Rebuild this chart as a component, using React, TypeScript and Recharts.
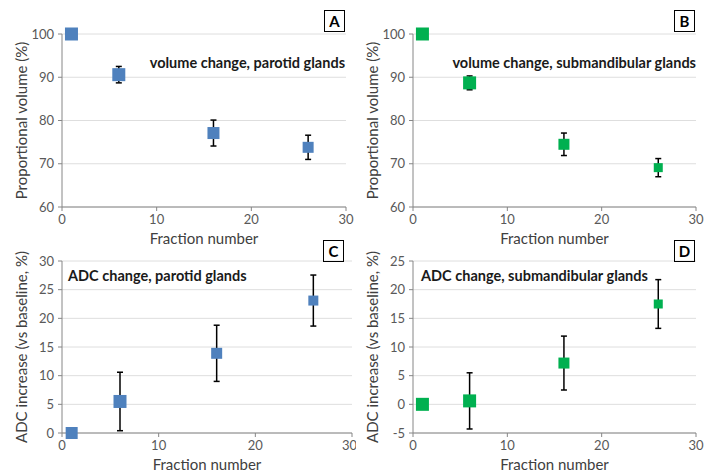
import {
  ScatterChart,
  Scatter,
  XAxis,
  YAxis,
  CartesianGrid,
  ErrorBar,
} from "recharts";

// fractions at which the glands were measured
const FRACTIONS = [1, 6, 16, 26];
const X_TICKS = [0, 10, 20, 30];

// volume, % of baseline
const PAROTID_VOLUME = [100, 90.6, 77.1, 73.8];
const PAROTID_VOLUME_ERR = [0, 1.9, 3.0, 2.8];
const SUBMAND_VOLUME = [100, 88.7, 74.5, 69.1];
const SUBMAND_VOLUME_ERR = [0, 1.6, 2.6, 2.1];

// ADC increase vs baseline, %
const PAROTID_ADC = [0, 5.5, 13.9, 23.1];
const PAROTID_ADC_ERR = [0, 5.1, 4.9, 4.45];
const SUBMAND_ADC = [0, 0.6, 7.2, 17.5];
const SUBMAND_ADC_ERR = [0, 4.9, 4.7, 4.25];

const VOLUME_TICKS = [60, 70, 80, 90, 100];
const PAROTID_ADC_TICKS = [0, 5, 10, 15, 20, 25, 30];
const SUBMAND_ADC_TICKS = [-5, 0, 5, 10, 15, 20, 25];

const BLUE = "#4F81BD";
const GREEN = "#00B050";
const AXIS = "#868686";
const GRID = "#dedede";
const TEXT = "#404040";
const FONT = "Lato, 'Open Sans', sans-serif";

function toRows(values: number[], errors: number[]) {
  return FRACTIONS.map((f, i) => ({ fraction: f, value: values[i], err: errors[i] }));
}

function squareShape(sizes: number[], color: string) {
  return (props: any) => {
    const i = FRACTIONS.indexOf(props.payload?.fraction);
    const s = sizes[i] ?? 11;
    return (
      <rect x={props.cx - s / 2} y={props.cy - s / 2} width={s} height={s} fill={color} />
    );
  };
}

function xLabel(props: any) {
  const vb = props.viewBox;
  return (
    <text
      x={vb.x + vb.width / 2}
      y={vb.y + 37}
      textAnchor="middle"
      fill={TEXT}
      fontSize={15}
      fontFamily={FONT}
    >
      Fraction number
    </text>
  );
}

function yLabel(text: string) {
  return (props: any) => {
    const vb = props.viewBox;
    const x = vb.x + vb.width - 35;
    const y = vb.y + vb.height / 2;
    return (
      <text
        x={x}
        y={y}
        transform={`rotate(-90 ${x} ${y})`}
        textAnchor="middle"
        fill={TEXT}
        fontSize={15}
        fontFamily={FONT}
      >
        {text}
      </text>
    );
  };
}

type PanelProps = {
  left: number;
  top: number;
  width: number;
  height: number;
  margin: { top: number; right: number; bottom: number; left: number };
  xHeight: number;
  yDomain: [number, number];
  yTicks: number[];
  rows: { fraction: number; value: number; err: number }[];
  color: string;
  sizes: number[];
  yTitle: string;
};

function Panel(p: PanelProps) {
  const tick = { fill: "#595959", fontSize: 13, fontFamily: FONT };
  return (
    <div style={{ position: "absolute", left: p.left, top: p.top }}>
      <ScatterChart width={p.width} height={p.height} margin={p.margin}>
        <CartesianGrid vertical={false} stroke={GRID} />
        <XAxis
          type="number"
          dataKey="fraction"
          domain={[0, 30]}
          ticks={X_TICKS}
          height={p.xHeight}
          stroke={AXIS}
          tickSize={4}
          tickMargin={4}
          tick={tick}
          label={{ content: xLabel }}
        />
        <YAxis
          type="number"
          dataKey="value"
          domain={p.yDomain}
          ticks={p.yTicks}
          width={40}
          stroke={AXIS}
          tickSize={4}
          tickMargin={4}
          tick={tick}
          label={{ content: yLabel(p.yTitle) }}
        />
        <Scatter
          data={p.rows}
          fill={p.color}
          shape={squareShape(p.sizes, p.color)}
          isAnimationActive={false}
        >
          <ErrorBar
            dataKey="err"
            direction="y"
            width={3}
            stroke="#000"
            strokeWidth={1.5}
            isAnimationActive={false}
          />
        </Scatter>
      </ScatterChart>
    </div>
  );
}

function LetterBox({ x, y, letter }: { x: number; y: number; letter: string }) {
  return (
    <div
      style={{
        position: "absolute",
        left: x,
        top: y,
        width: 19,
        height: 20,
        border: "1.5px solid #000",
        fontFamily: FONT,
        fontWeight: 700,
        fontSize: 15,
        lineHeight: "20px",
        textAlign: "center",
        color: "#000",
      }}
    >
      {letter}
    </div>
  );
}

function Note({ x, y, text, align }: { x: number; y: number; text: string; align: "left" | "right" }) {
  const style: any = {
    position: "absolute",
    top: y - 10,
    fontFamily: FONT,
    fontWeight: 700,
    fontSize: 14.5,
    lineHeight: "20px",
    color: "#1a1a1a",
    whiteSpace: "nowrap",
  };
  if (align === "left") style.left = x;
  else style.right = 712 - x;
  return <div style={style}>{text}</div>;
}

export default function App() {
  return (
    <div
      style={{
        position: "absolute",
        left: 0,
        top: 0,
        width: 712,
        height: 472,
        background: "#fff",
        overflow: "hidden",
      }}
    >
      <Panel
        left={0}
        top={0}
        width={356}
        height={250}
        margin={{ top: 34, right: 10, bottom: 3, left: 22 }}
        xHeight={40}
        yDomain={[60, 100]}
        yTicks={VOLUME_TICKS}
        rows={toRows(PAROTID_VOLUME, PAROTID_VOLUME_ERR)}
        color={BLUE}
        sizes={[13, 13, 12, 11]}
        yTitle="Proportional volume (%)"
      />
      <Panel
        left={356}
        top={0}
        width={356}
        height={250}
        margin={{ top: 34, right: 16, bottom: 3, left: 17 }}
        xHeight={40}
        yDomain={[60, 100]}
        yTicks={VOLUME_TICKS}
        rows={toRows(SUBMAND_VOLUME, SUBMAND_VOLUME_ERR)}
        color={GREEN}
        sizes={[13, 13, 11, 9]}
        yTitle="Proportional volume (%)"
      />
      <Panel
        left={0}
        top={236}
        width={356}
        height={236}
        margin={{ top: 25, right: 4, bottom: 3, left: 22 }}
        xHeight={36}
        yDomain={[0, 30]}
        yTicks={PAROTID_ADC_TICKS}
        rows={toRows(PAROTID_ADC, PAROTID_ADC_ERR)}
        color={BLUE}
        sizes={[12, 13, 11, 10]}
        yTitle="ADC increase (vs baseline, %)"
      />
      <Panel
        left={356}
        top={236}
        width={356}
        height={236}
        margin={{ top: 25, right: 16, bottom: 3, left: 17 }}
        xHeight={36}
        yDomain={[-5, 25]}
        yTicks={SUBMAND_ADC_TICKS}
        rows={toRows(SUBMAND_ADC, SUBMAND_ADC_ERR)}
        color={GREEN}
        sizes={[13, 13, 11, 9]}
        yTitle="ADC increase (vs baseline, %)"
      />

      <LetterBox x={324} y={10} letter="A" />
      <LetterBox x={674} y={10} letter="B" />
      <LetterBox x={323} y={240} letter="C" />
      <LetterBox x={674} y={240} letter="D" />

      <Note x={345} y={63} text="volume change, parotid glands" align="right" />
      <Note x={696} y={63} text="volume change, submandibular glands" align="right" />
      <Note x={68} y={276} text="ADC change, parotid glands" align="left" />
      <Note x={421} y={276} text="ADC change, submandibular glands" align="left" />
    </div>
  );
}
